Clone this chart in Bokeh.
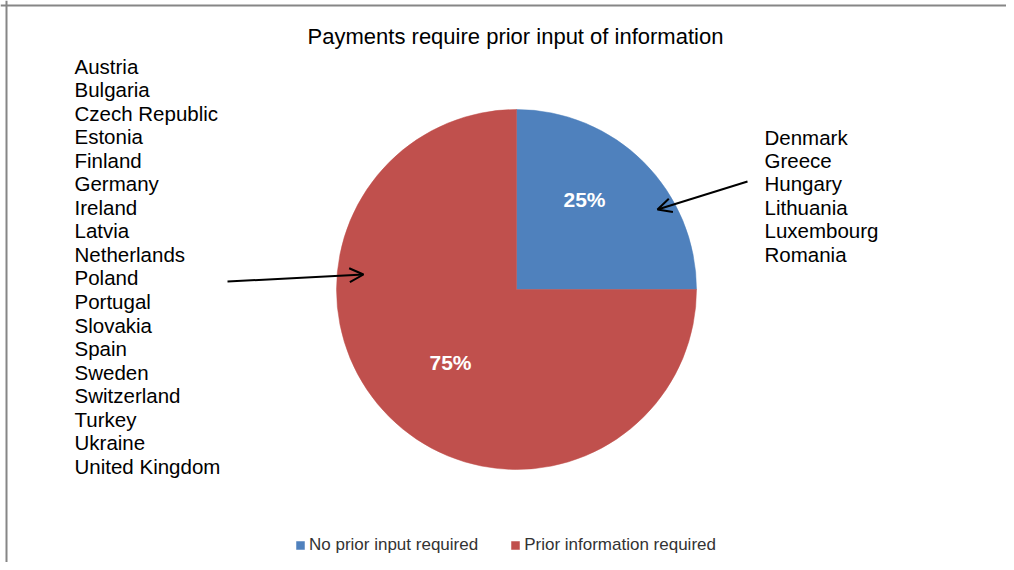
import math
from bokeh.plotting import figure
from bokeh.models import ColumnDataSource, Range1d, Label, Arrow, OpenHead, Legend, LegendItem, Span
from bokeh.core.properties import value
from bokeh.embed import file_html
from bokeh.resources import INLINE

# ---------------- data ----------------
title_text = "Payments require prior input of information"
categories = ["No prior input required", "Prior information required"]
shares = [25, 75]
slice_colors = ["#4F81BD", "#C0504D"]
no_prior_countries = ["Denmark", "Greece", "Hungary", "Lithuania", "Luxembourg", "Romania"]
prior_required_countries = [
    "Austria", "Bulgaria", "Czech Republic", "Estonia", "Finland", "Germany",
    "Ireland", "Latvia", "Netherlands", "Poland", "Portugal", "Slovakia",
    "Spain", "Sweden", "Switzerland", "Turkey", "Ukraine", "United Kingdom",
]

# ---------------- layout (screen pixel coordinates) ----------------
W, H = 1006, 562
def py(Y):          # screen y (top-down) -> data y (bottom-up)
    return H - Y

FONT = "Liberation Sans"
CX, CY, R = 516, 289, 180
label_pos = [(584, 199), (450, 362)]

p = figure(width=W, height=H, x_range=Range1d(0, W), y_range=Range1d(0, H),
           x_axis_type=None, y_axis_type=None, toolbar_location=None,
           output_backend="svg", min_border=0)
p.grid.visible = False
p.outline_line_color = None
p.background_fill_color = "white"
p.border_fill_color = "white"

# chart-area border (top and left edges visible in the crop)
p.add_layout(Span(location=py(5), dimension="width", line_color="#868686", line_width=2))
p.add_layout(Span(location=6, dimension="height", line_color="#868686", line_width=2))

# ---------------- pie ----------------
total = float(sum(shares))
starts, ends = [], []
a = math.pi / 2
for s in shares:
    starts.append(a)
    a = a - 2 * math.pi * s / total
    ends.append(a)
src = ColumnDataSource(dict(cat=categories, share=shares, color=slice_colors,
                            start=starts, end=ends,
                            x=[CX] * len(shares), y=[py(CY)] * len(shares)))
wr = p.wedge(x="x", y="y", radius=R, radius_units="screen", start_angle="start",
             end_angle="end", direction="clock", fill_color="color",
             line_color="color", line_width=0.5, source=src)

pct_src = ColumnDataSource(dict(x=[q[0] for q in label_pos], y=[py(q[1]) for q in label_pos],
                                t=["%d%%" % s for s in shares]))
p.text(x="x", y="y", text="t", source=pct_src, text_color="white",
       text_font=value(FONT), text_font_size="21px", text_font_style="bold",
       text_align="center", text_baseline="middle")

# ---------------- country lists ----------------
left_src = ColumnDataSource(dict(x=[74] * len(prior_required_countries),
                                 y=[py(65.5 + 23.55 * i) for i in range(len(prior_required_countries))],
                                 t=prior_required_countries))
p.text(x="x", y="y", text="t", source=left_src, text_color="black",
       text_font=value(FONT), text_font_size="20.5px", text_align="left", text_baseline="middle")
right_src = ColumnDataSource(dict(x=[764] * len(no_prior_countries),
                                  y=[py(136.5 + 23.45 * i) for i in range(len(no_prior_countries))],
                                  t=no_prior_countries))
p.text(x="x", y="y", text="t", source=right_src, text_color="black",
       text_font=value(FONT), text_font_size="20.5px", text_align="left", text_baseline="middle")

# arrows
p.add_layout(Arrow(end=OpenHead(size=14, line_width=2, line_color="black"),
                   x_start=227, y_start=py(281), x_end=363, y_end=py(274),
                   line_width=2, line_color="black"))
p.add_layout(Arrow(end=OpenHead(size=14, line_width=2, line_color="black"),
                   x_start=747, y_start=py(181), x_end=657, y_end=py(209),
                   line_width=2, line_color="black"))

# title
p.add_layout(Label(x=515, y=py(36), text=title_text, text_align="center",
                   text_baseline="middle", text_font=FONT, text_font_size="22px",
                   text_color="black"))

# legend
legend = Legend(items=[LegendItem(label=categories[i], renderers=[wr], index=i) for i in range(len(categories))],
                orientation="horizontal", location=(295, 7),
                glyph_width=10, glyph_height=10, label_standoff=4, spacing=32,
                padding=0, margin=0, border_line_color=None, background_fill_alpha=0,
                label_text_font=FONT, label_text_font_size="17px", label_text_color="#333333",
                label_height=20)
p.add_layout(legend, "center")

open("out.html", "w").write(file_html(p, INLINE))
